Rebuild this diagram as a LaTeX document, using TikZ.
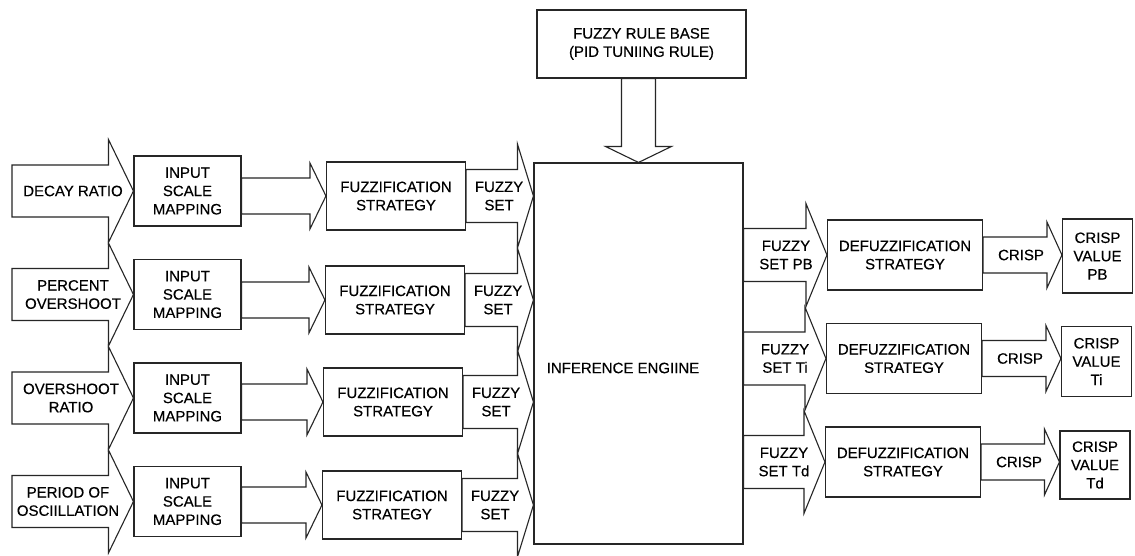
\documentclass[tikz,border=0pt]{standalone}
\usepackage{fontspec}
\setmainfont{Liberation Sans}
\newfontfamily\dfont{Liberation Sans}[FakeBold=0.35]
\usetikzlibrary{calc}
\tikzset{
  blk/.style={draw=black!85, line width=1.1pt, line join=miter},
  box/.style={draw=black!85, line width=1.1pt, align=center, inner sep=0pt,
    font=\dfont\fontsize{15}{18.3}\selectfont},
  lbl/.style={align=center, inner sep=0pt, font=\dfont\fontsize{15}{18.3}\selectfont}
}
% block arrow: #1 start point (x), #2 tip point (x), #3 point giving y,
% #4 shaft half-height, #5 head half-height, #6 head length
\newcommand\blockarrow[6]{%
  \draw[blk] let \p1=#1, \p2=#2, \p3=#3 in
    (\x1,\y3+#4) -- (\x2-#6,\y3+#4) -- (\x2-#6,\y3+#5) -- (\x2,\y3)
    -- (\x2-#6,\y3-#5) -- (\x2-#6,\y3-#4) -- (\x1,\y3-#4) -- cycle;}
\begin{document}
\begin{tikzpicture}[x=1pt,y=-1pt]
\useasboundingbox[fill=white] (0,0) rectangle (1135,555);

% input labels and free ends
\foreach \i/\r in {1/191,2/294.5,3/398,4/501.5}{
  \coordinate (in\i) at (12,\r);
}
\node[lbl] (t1) at (73,191) {DECAY RATIO};
\node[lbl] (t2) at (73,294.5) {PERCENT\\OVERSHOOT};
\node[lbl] (t3) at (71,398) {OVERSHOOT\\RATIO};
\node[lbl] (t4) at (68,501.5) {PERIOD OF\\OSCIILLATION};

% input scale mapping
\foreach \i/\r in {1/191,2/294.5,3/398,4/501.5}{
  \node[box, minimum width=107pt, minimum height=70pt] (ism\i) at (187.5,\r) {INPUT\\SCALE\\MAPPING};
}
% fuzzification
\node[box, minimum width=139pt, minimum height=68pt] (fz1) at (396,196) {FUZZIFICATION\\STRATEGY};
\node[box, minimum width=139pt, minimum height=68pt] (fz2) at (395,300) {FUZZIFICATION\\STRATEGY};
\node[box, minimum width=139pt, minimum height=68pt] (fz3) at (393,402) {FUZZIFICATION\\STRATEGY};
\node[box, minimum width=139pt, minimum height=68pt] (fz4) at (392,505) {FUZZIFICATION\\STRATEGY};

% inference engine and rule base
\node[box, minimum width=209pt, minimum height=381pt] (eng) at (638.5,353.5) {};
\node[lbl] (engt) at (623,368) {INFERENCE ENGIINE};
\node[box, minimum width=209pt, minimum height=68pt] (rule) at (641.5,44) {FUZZY RULE BASE\\(PID TUNIING RULE)};

% defuzzification
\node[box, minimum width=155pt, minimum height=70pt] (df1) at (905,255) {DEFUZZIFICATION\\STRATEGY};
\node[box, minimum width=155pt, minimum height=70pt] (df2) at (904,358.5) {DEFUZZIFICATION\\STRATEGY};
\node[box, minimum width=155pt, minimum height=70pt] (df3) at (903,462) {DEFUZZIFICATION\\STRATEGY};

% crisp values
\node[box, minimum width=70pt, minimum height=74pt] (val1) at (1097.5,256) {CRISP\\VALUE\\PB};
\node[box, minimum width=70pt, minimum height=70pt] (val2) at (1096.5,361.5) {CRISP\\VALUE\\Ti};
\node[box, minimum width=70pt, minimum height=68pt] (val3) at (1095,465) {CRISP\\VALUE\\Td};

% input arrows
\foreach \i in {1,...,4}{
  \blockarrow{(in\i)}{(ism\i.west)}{(ism\i)}{26pt}{51.5pt}{25pt}
}
% ISM -> fuzzification
\foreach \i in {1,...,4}{
  \blockarrow{(ism\i.east)}{(fz\i.west)}{(fz\i)}{18pt}{33pt}{16pt}
}
% fuzzification -> engine
\foreach \i in {1,...,4}{
  \blockarrow{(fz\i.east)}{(eng.west)}{(fz\i)}{26.5pt}{52pt}{16pt}
  \node[lbl] (fs\i) at ($(fz\i.east)+(33,0)$) {FUZZY\\SET};
}
% rule base -> engine
\draw[blk] let \p1=(rule.south), \p2=(eng.north) in
  (\x2-17pt,\y1) -- (\x2-17pt,\y2+16pt) -- (\x2-33pt,\y2+16pt) -- (\x2,\y2)
  -- (\x2+33pt,\y2+16pt) -- (\x2+17pt,\y2+16pt) -- (\x2+17pt,\y1) -- cycle;

% engine -> defuzzification
\foreach \i in {1,2,3}{
  \blockarrow{(eng.east)}{(df\i.west)}{(df\i)}{26.5pt}{51.5pt}{21pt}
}
\node[lbl] (fo1) at (786,255) {FUZZY\\SET PB};
\node[lbl] (fo2) at (785,358.5) {FUZZY\\SET Ti};
\node[lbl] (fo3) at (784,462) {FUZZY\\SET Td};

% defuzzification -> crisp value
\foreach \i in {1,2,3}{
  \blockarrow{(df\i.east)}{(val\i.west)}{(df\i)}{18pt}{33pt}{15pt}
  \node[lbl] (cr\i) at ($(df\i.east)+(38,0)$) {CRISP};
}
\end{tikzpicture}
\end{document}
